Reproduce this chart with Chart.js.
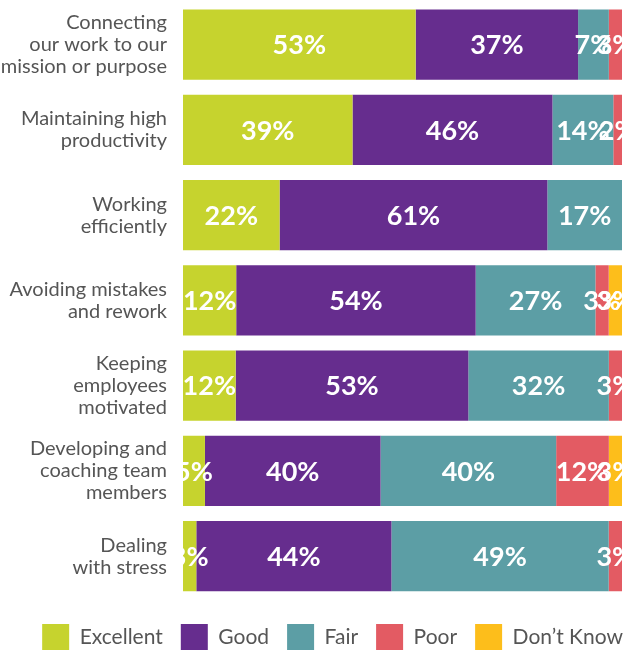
<!DOCTYPE html>
<html>
<head>
<meta charset="utf-8">
<script src="https://cdn.jsdelivr.net/npm/chart.js@4/dist/chart.umd.min.js"></script>
<style>
  html, body { margin: 0; padding: 0; background: #fff; }
  #wrap { width: 624px; height: 650px; position: relative; }
</style>
</head>
<body>
<div id="wrap"><canvas id="chart"></canvas></div>
<script>
// Categories (multi-line labels)
const categories = [
  ['Connecting', 'our work to our', 'mission or purpose'],
  ['Maintaining high', 'productivity'],
  ['Working', 'efficiently'],
  ['Avoiding mistakes', 'and rework'],
  ['Keeping', 'employees', 'motivated'],
  ['Developing and', 'coaching team', 'members'],
  ['Dealing', 'with stress']
];

// Series values (%) as printed on the bars
const excellent = [53, 39, 22, 12, 12, 5, 3];
const good      = [37, 46, 61, 54, 53, 40, 44];
const fair      = [7, 14, 17, 27, 32, 40, 49];
const poor      = [3, 2, 0, 3, 3, 12, 3];
const dontKnow  = [0, 0, 0, 3, 0, 3, 0];

const seriesNames = ['Excellent', 'Good', 'Fair', 'Poor', 'Don\u2019t Know'];
const seriesColors = ['#c6d32e', '#662d8e', '#5c9ea5', '#e35b63', '#fdbe1b'];

const allSeries = [excellent, good, fair, poor, dontKnow];

// rounded figures don't always add to 100, so each bar is scaled to full width
const rowTotals = categories.map((_, j) => allSeries.reduce((s, d) => s + d[j], 0));

// Draws the white % label in the middle of each segment
const valueLabels = {
  id: 'valueLabels',
  afterDatasetsDraw(chart) {
    const ctx = chart.ctx;
    ctx.save();
    ctx.fillStyle = '#ffffff';
    ctx.font = 'bold 27px Lato';
    ctx.textAlign = 'center';
    ctx.textBaseline = 'middle';
    chart.data.datasets.forEach((ds, i) => {
      const meta = chart.getDatasetMeta(i);
      meta.data.forEach((bar, j) => {
        const v = allSeries[i][j];
        if (!v) return;
        const cx = (bar.x + bar.base) / 2;
        ctx.fillText(v + '%', cx, bar.y + 1);
      });
    });
    ctx.restore();
  }
};

// push the legend row to the right edge like the original
const legendShift = {
  id: 'legendShift',
  afterLayout(chart) {
    if (chart.legend) {
      chart.legend.left += 19;
      chart.legend.right += 19;
    }
  }
};

new Chart(document.getElementById('chart'), {
  type: 'bar',
  data: {
    labels: categories,
    datasets: allSeries.map((d, i) => ({
      label: seriesNames[i],
      data: d.map((v, j) => v / rowTotals[j] * 100),
      backgroundColor: seriesColors[i],
      borderWidth: 0,
      categoryPercentage: 1,
      barPercentage: 0.824
    }))
  },
  options: {
    indexAxis: 'y',
    responsive: true,
    maintainAspectRatio: false,
    animation: false,
    layout: { padding: { top: 2, right: 2, left: 0, bottom: -10 } },
    scales: {
      x: {
        stacked: true,
        min: 0,
        max: 100,
        display: false
      },
      y: {
        stacked: true,
        grid: { display: false },
        border: { display: false },
        ticks: {
          color: '#555555',
          font: { family: 'Lato', size: 20, lineHeight: 1.1 },
          padding: 8
        },
        afterFit(scale) {
          scale.width = 183;
          scale.paddingTop = 0;
          scale.paddingBottom = 0;
        }
      }
    },
    plugins: {
      legend: {
        position: 'bottom',
        align: 'end',
        // blank title only used as a spacer above the legend row
        title: { display: true, text: ' ', font: { size: 1 }, padding: { top: 6, bottom: 0 } },
        labels: {
          boxWidth: 27,
          boxHeight: 26,
          color: '#555555',
          font: { family: 'Lato', size: 21 },
          padding: 18
        }
      },
      tooltip: { enabled: false }
    }
  },
  plugins: [valueLabels, legendShift]
});
</script>
</body>
</html>
